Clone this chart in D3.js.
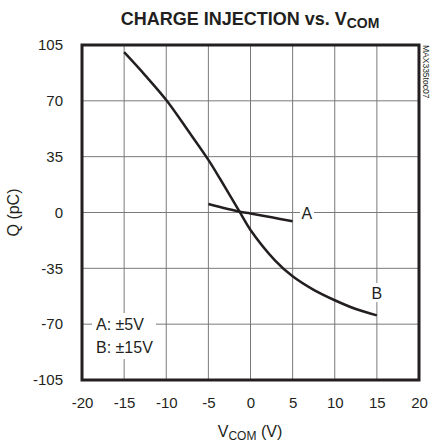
<!DOCTYPE html>
<html>
<head>
<meta charset="utf-8">
<script src="https://d3js.org/d3.v7.min.js"></script>
<style>
  body { margin: 0; background: #fff; }
  text { font-family: "Liberation Sans", Arial, sans-serif; fill: #231f20; }
</style>
</head>
<body>
<div id="chart"></div>
<script>
// data
var xTicks = [-20, -15, -10, -5, 0, 5, 10, 15, 20];
var yTicks = [-105, -70, -35, 0, 35, 70, 105];

// curve B (±15V supplies)
var vcomB = [-15, -12.5, -10, -7.5, -5, -3.6, -1.3, 0, 2.9, 5, 7.5, 10, 12.5, 15];
var qB    = [100.5, 86, 70.5, 52, 33, 21, 0.5, -11, -30, -40, -48.5, -55, -60.5, -64.5];

// curve A (±5V supplies)
var vcomA = [-5, -1.3, 0, 2.5, 5];
var qA    = [5.3, 0.5, -0.6, -3, -5.5];

var margin = {top: 45, right: 13, bottom: 64, left: 82},
    width = 432 - margin.left - margin.right,
    height = 444 - margin.top - margin.bottom;

var svg = d3.select("#chart")
  .append("svg")
    .attr("width", 432)
    .attr("height", 444);

var g = svg.append("g")
    .attr("transform", "translate(" + margin.left + "," + margin.top + ")");

var x = d3.scaleLinear().domain([-20, 20]).range([0, width]);
var y = d3.scaleLinear().domain([-105, 105]).range([height, 0]);

// grid
g.selectAll(".vgrid")
  .data(xTicks)
  .enter().append("line")
    .attr("x1", function(d) { return x(d); })
    .attr("x2", function(d) { return x(d); })
    .attr("y1", 0).attr("y2", height)
    .attr("stroke", "#7a7a7a").attr("stroke-width", 1);
g.selectAll(".hgrid")
  .data(yTicks)
  .enter().append("line")
    .attr("y1", function(d) { return y(d); })
    .attr("y2", function(d) { return y(d); })
    .attr("x1", 0).attr("x2", width)
    .attr("stroke", "#7a7a7a").attr("stroke-width", 1);

// axes (tick labels only, the frame is drawn below)
var fmt = function(d) { return String(d); };
var xAxis = g.append("g")
  .attr("transform", "translate(0," + height + ")")
  .call(d3.axisBottom(x).tickValues(xTicks).tickFormat(fmt).tickSize(0).tickPadding(17));
var yAxis = g.append("g")
  .call(d3.axisLeft(y).tickValues(yTicks).tickFormat(fmt).tickSize(0).tickPadding(19));
[xAxis, yAxis].forEach(function(a) {
  a.select(".domain").remove();
  a.selectAll("text")
    .style("font-family", "'Liberation Sans', Arial, sans-serif")
    .style("font-size", "15px")
    .attr("fill", "#231f20");
});

// curves
var line = d3.line().curve(d3.curveCatmullRom.alpha(0.5))
  .x(function(d) { return x(d[0]); })
  .y(function(d) { return y(d[1]); });

g.append("path")
  .datum(d3.zip(vcomB, qB))
  .attr("d", line)
  .attr("fill", "none").attr("stroke", "#231f20").attr("stroke-width", 2.5);

g.append("path")
  .datum(d3.zip(vcomA, qA))
  .attr("d", line)
  .attr("fill", "none").attr("stroke", "#231f20").attr("stroke-width", 2.5);

// curve labels with white knockout
function label(txt, vx, vy) {
  g.append("rect")
    .attr("x", x(vx) - 7).attr("y", y(vy) - 10)
    .attr("width", 14).attr("height", 19)
    .attr("fill", "#fff");
  g.append("text")
    .attr("x", x(vx)).attr("y", y(vy) + 6)
    .attr("text-anchor", "middle")
    .style("font-size", "16px")
    .text(txt);
}
label("A", 6.7, -0.3);
label("B", 15, -50.5);

// legend box
g.append("rect")
  .attr("x", 10).attr("y", y(-63))
  .attr("width", 64).attr("height", 46)
  .attr("fill", "#fff");
g.append("text").attr("x", 14).attr("y", y(-70) + 6)
  .style("font-size", "16px").text("A: \u00b15V");
g.append("text").attr("x", 14).attr("y", y(-70) + 29)
  .style("font-size", "16px").text("B: \u00b115V");

// frame
g.append("rect")
  .attr("x", 0).attr("y", 0)
  .attr("width", width).attr("height", height)
  .attr("fill", "none").attr("stroke", "#231f20").attr("stroke-width", 3);

// title
var title = svg.append("text")
  .attr("x", 250).attr("y", 25)
  .attr("text-anchor", "middle")
  .style("font-size", "18px").style("font-weight", "bold");
title.append("tspan").text("CHARGE INJECTION vs. V");
title.append("tspan").attr("dy", 3).style("font-size", "14px").text("COM");

// x axis title
var xt = svg.append("text")
  .attr("x", 250).attr("y", 437)
  .attr("text-anchor", "middle")
  .style("font-size", "16px");
xt.append("tspan").text("V");
xt.append("tspan").attr("dy", 3).style("font-size", "12px").text("COM");
xt.append("tspan").attr("dy", -3).text(" (V)");

// y axis title
svg.append("text")
  .attr("transform", "translate(19," + (margin.top + y(0)) + ") rotate(-90)")
  .attr("text-anchor", "middle")
  .style("font-size", "16px")
  .text("Q (pC)");

// part code
svg.append("text")
  .attr("transform", "translate(423,45) rotate(90)")
  .style("font-size", "8.5px")
  .text("MAX335toc07");
</script>
</body>
</html>
